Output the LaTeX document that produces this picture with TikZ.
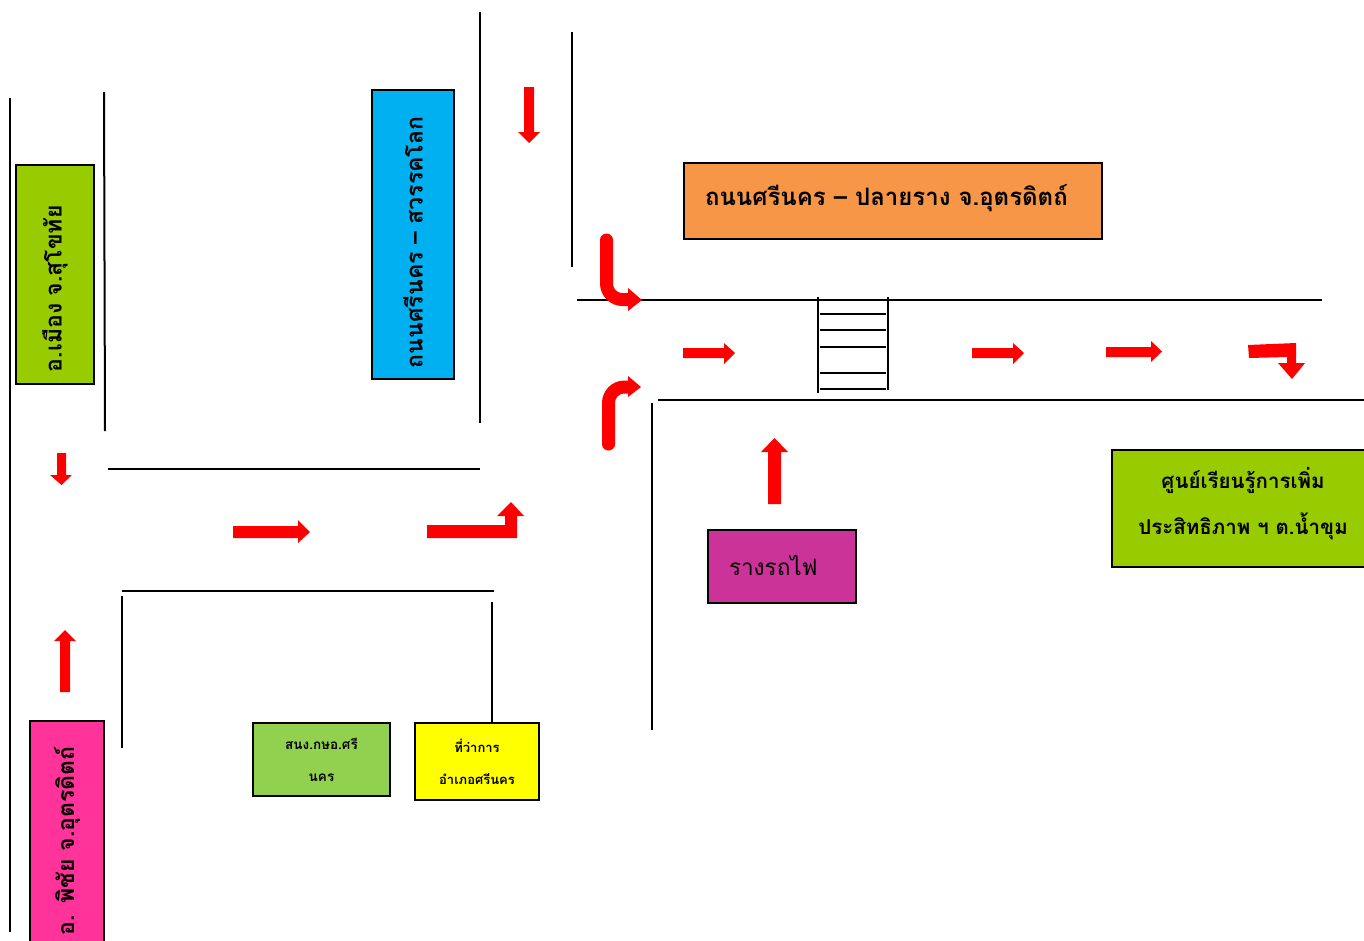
\documentclass[tikz,border=0pt]{standalone}
\usepackage{fontspec}
\newfontfamily\thai[Script=Thai]{Loma}
\begin{document}
\begin{tikzpicture}[x=1pt,y=-1pt,
  road/.style={line width=2pt,black},
  box/.style={draw=black,line width=2pt,inner sep=0pt,font=\thai\bfseries},
  rarr/.style={fill=red,draw=none},
  rbend/.style={draw=red,line width=13pt,rounded corners=16pt}]
\useasboundingbox (0,0) rectangle (1364,940);
% roads
\draw[road] (10,98) -- (10,932);
\draw[road] (104,92) -- (105,431);
\draw[road] (108,469) -- (480,469);
\draw[road] (122,591) -- (494,591);
\draw[road] (122,596) -- (122,748);
\draw[road] (492,602) -- (492,722);
\draw[road] (480,12) -- (480,423);
\draw[road] (572,32) -- (572,267);
\draw[road] (577,300) -- (1322,300);
\draw[road] (658,400) -- (1364,400);
\draw[road] (652,403) -- (652,730);
% crossing ladder
\draw[road] (818,297) -- (818,393);
\draw[road] (888,297) -- (888,390);
\foreach \yy in {314,330,347,373,389} \draw[road] (820,\yy) -- (886,\yy);
% boxes
\node[box,fill={rgb,255:red,153;green,204;blue,0},rotate=90,minimum width=219pt,minimum height=78pt,text width=195pt,align=left,font=\thai\bfseries\fontsize{23}{26}\selectfont] (muang) at (55,274.5) {\raisebox{-3pt}{อ.เมือง จ.สุโขทัย}};
\node[box,fill={rgb,255:red,0;green,176;blue,240},rotate=90,minimum width=289pt,minimum height=82pt,text width=267pt,align=left,font=\thai\bfseries\fontsize{23}{26}\selectfont] (sawan) at (413,234.5) {ถนนศรีนคร – สวรรคโลก};
\node[box,fill={rgb,255:red,255;green,51;blue,153},rotate=90,minimum width=239pt,minimum height=74pt,text width=189pt,align=left,font=\thai\bfseries\fontsize{23}{26}\selectfont] (phichai) at (67,840.5) {อ. พิชัย จ.อุตรดิตถ์};
\node[box,fill={rgb,255:red,247;green,150;blue,70},minimum width=418pt,minimum height=76pt,text width=376pt,align=left,font=\thai\bfseries\fontsize{24}{28}\selectfont] (plairang) at (893,201) {\raisebox{12pt}{ถนนศรีนคร – ปลายราง จ.อุตรดิตถ์}};
\node[box,fill={rgb,255:red,204;green,51;blue,153},minimum width=148pt,minimum height=73pt,text width=106pt,align=left,font=\thai\fontsize{22.5}{26}\selectfont] (rail) at (782,566.5) {\raisebox{2pt}{รางรถไฟ}};
\node[box,fill={rgb,255:red,153;green,204;blue,0},minimum width=262pt,minimum height=117pt,align=center,font=\thai\bfseries\fontsize{20.5}{46}\selectfont] (center) at (1243,508.5) {\raisebox{15pt}{ศูนย์เรียนรู้การเพิ่ม}\\\raisebox{15pt}{ประสิทธิภาพ ฯ ต.น้ำขุม}};
\node[box,fill={rgb,255:red,146;green,208;blue,80},minimum width=137pt,minimum height=73pt,align=center,font=\thai\bfseries\fontsize{13.5}{32}\selectfont] (snk) at (321.5,759.5) {สนง.กษอ.ศรี\\นคร};
\node[box,fill={rgb,255:red,255;green,255;blue,0},minimum width=124pt,minimum height=77pt,align=center,font=\thai\bfseries\fontsize{13}{32}\selectfont] (amphoe) at (477,761.5) {ที่ว่าการ\\อำเภอศรีนคร};
% straight arrows
\fill[rarr] (524,87)--(534,87)--(534,132)--(540,132)--(529,143)--(518,132)--(524,132)--cycle;
\fill[rarr] (57,453)--(66,453)--(66,475)--(72,475)--(61.5,485)--(50,475)--(57,475)--cycle;
\fill[rarr] (60,692)--(70,692)--(70,641)--(76,641)--(65,630)--(54,641)--(60,641)--cycle;
\fill[rarr] (233,526)--(298,526)--(298,520)--(310,532)--(298,543)--(298,538)--(233,538)--cycle;
\fill[rarr] (427,525)--(505,525)--(505,516)--(497,516)--(511,502)--(524,516)--(517,516)--(517,538)--(427,538)--cycle;
\fill[rarr] (683,348)--(724,348)--(724,343)--(735,353)--(724,364)--(724,358)--(683,358)--cycle;
\fill[rarr] (972,348)--(1013,348)--(1013,343)--(1024,353)--(1013,364)--(1013,358)--(972,358)--cycle;
\fill[rarr] (1106,347)--(1151,347)--(1151,341)--(1162,351.5)--(1151,362)--(1151,357)--(1106,357)--cycle;
\fill[rarr] (1248,345)--(1296,343)--(1296,363)--(1305,363)--(1292,379)--(1278,363)--(1287,363)--(1287,357)--(1249,358)--cycle;
\fill[rarr] (768,504)--(781,504)--(781,452)--(788,452)--(774.5,438)--(761,452)--(768,452)--cycle;
% rounded turning arrows
\draw[rbend,line cap=round] (606.5,240) -- (606.5,299.5) -- (630,299.5);
\fill[rarr] (628,288)--(642,300)--(628,311)--cycle;
\draw[rbend,line cap=round] (608.5,444) -- (608.5,387) -- (630,387);
\fill[rarr] (628,376)--(641,387)--(628,397)--cycle;
\end{tikzpicture}
\end{document}
